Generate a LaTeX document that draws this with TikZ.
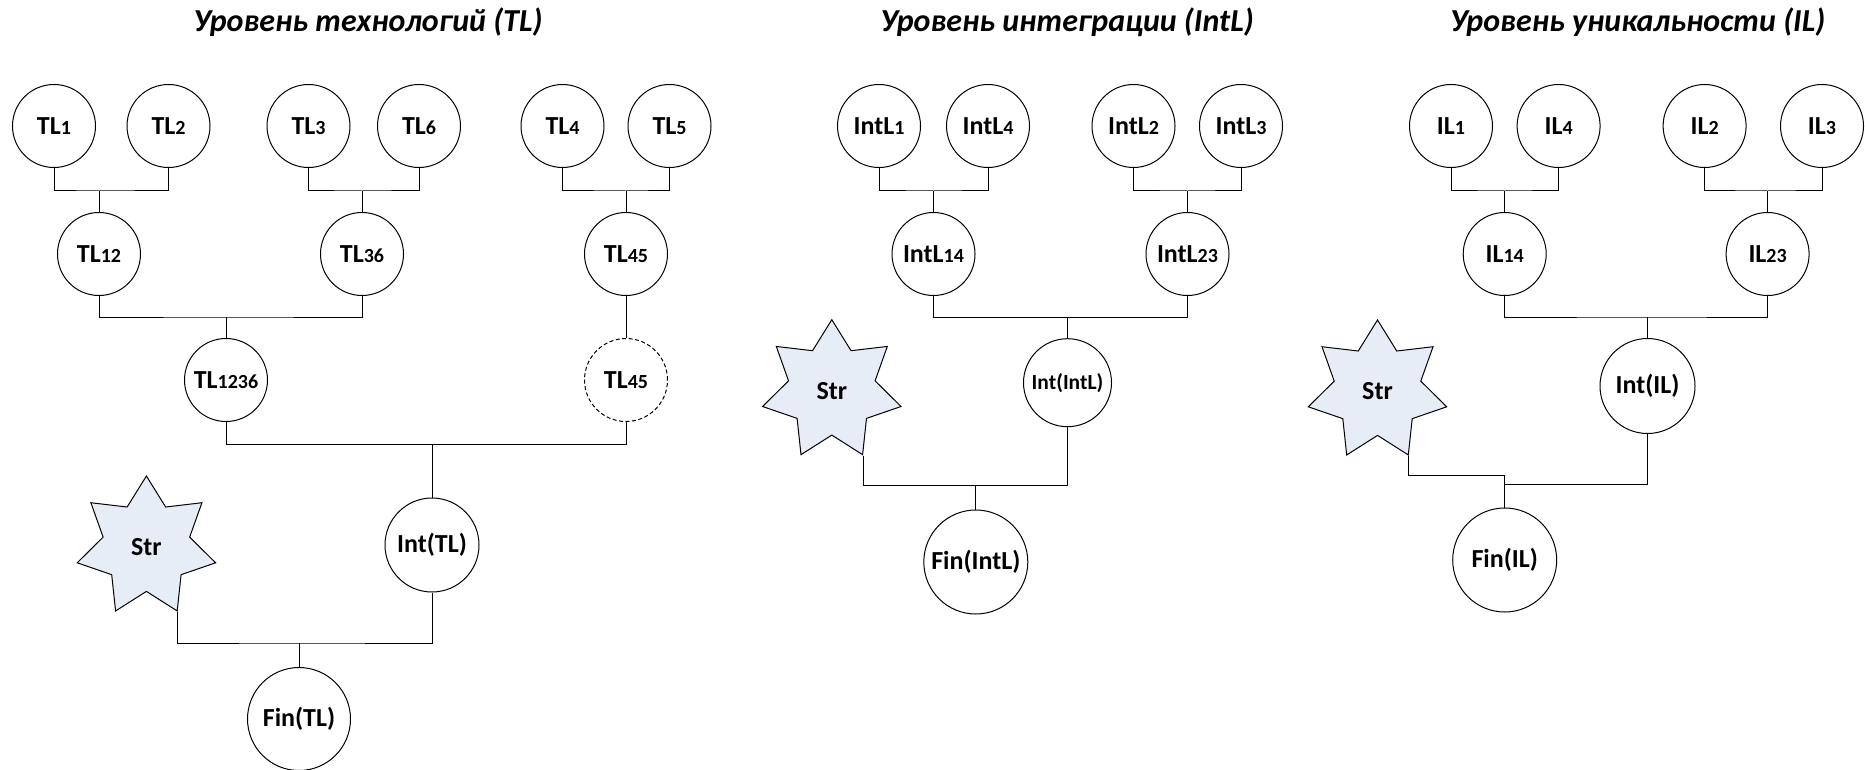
\documentclass[tikz,border=0pt]{standalone}
\usepackage{fontspec}
\setmainfont{Carlito}
\usepackage{tikz}
\usetikzlibrary{positioning,shapes.geometric}
\definecolor{strfill}{RGB}{231,237,247}
\newcommand{\ix}[1]{{\fontsize{20}{22}\selectfont #1}}
\tikzstyle{knot}=[
	circle,
	draw=black,
	minimum size=83pt,
	inner sep=0pt,
	font=\bfseries\fontsize{26}{30}\selectfont]
\tikzstyle{ghost}=[
	knot,
	dash pattern=on 4pt off 2.5pt]
\tikzstyle{strat}=[
	star,
	star points=7,
	star point ratio=1.6,
	minimum size=142pt,
	inner sep=0pt,
	draw=black,
	fill=strfill,
	font=\bfseries\fontsize{26}{30}\selectfont]
\tikzstyle{head}=[
	inner sep=0pt,
	font=\bfseries\itshape\fontsize{32}{38}\selectfont]

\begin{document}
\begin{tikzpicture}[x=1pt,y=1pt]
	\useasboundingbox (0,0) rectangle (1865,-770);
	\begin{scope}[on grid,line width=1pt]
	\node[head]	(h1)	at (368,-22)	{Уровень технологий (TL)};
	\node[knot]	(TL1)	at (54,-126)	{TL\ix{1}};
	\node[knot]	(TL2)	[right=114.5pt of TL1]	{TL\ix{2}};
	\node[knot]	(TL3)	[right=140pt of TL2]	{TL\ix{3}};
	\node[knot]	(TL6)	[right=110.5pt of TL3]	{TL\ix{6}};
	\node[knot]	(TL4)	[right=143.5pt of TL6]	{TL\ix{4}};
	\node[knot]	(TL5)	[right=107pt of TL4]	{TL\ix{5}};
	\node[knot]	(TL12)	[below right=128pt and 45pt of TL1]	{TL\ix{12}};
	\node[knot]	(TL36)	[below right=128pt and 53.5pt of TL3]	{TL\ix{36}};
	\node[knot]	(TL45)	[below right=128pt and 63.5pt of TL4]	{TL\ix{45}};
	\node[knot]	(TL1236)	[below right=126pt and 127pt of TL12]	{TL\ix{1236}};
	\node[ghost]	(TL45v)	[below=126pt of TL45]	{TL\ix{45}}
	edge (TL45);
	\node[knot,minimum size=94pt]	(IntTL)	[below right=165pt and 206pt of TL1236]	{Int(TL)};
	\node[strat]	(StrTL)	[below left=2pt and 285.6pt of IntTL]	{Str};
	\node[knot,minimum size=103pt]	(FinTL)	[below left=174pt and 133pt of IntTL]	{Fin(TL)};
	\coordinate[above=21pt of TL12.north]	(j12);
	\coordinate[above=21pt of TL36.north]	(j36);
	\coordinate[above=21pt of TL45.north]	(j45);
	\coordinate[above=21pt of TL1236.north]	(j1236);
	\coordinate[above=53pt of IntTL.north]	(jIntTL);
	\coordinate[above=24pt of FinTL.north]	(jFinTL);
	\draw (TL1) |- (j12) -| (TL2);
	\draw (j12) -- (TL12);
	\draw (TL3) |- (j36) -| (TL6);
	\draw (j36) -- (TL36);
	\draw (TL4) |- (j45) -| (TL5);
	\draw (j45) -- (TL45);
	\draw (TL12) |- (j1236) -| (TL36);
	\draw (j1236) -- (TL1236);
	\draw (TL1236) |- (jIntTL) -| (TL45v);
	\draw (jIntTL) -- (IntTL);
	\draw (StrTL.outer point 5) |- (jFinTL) -| (IntTL);
	\draw (jFinTL) -- (FinTL);

	\node[head]	(h2)	at (1067,-22)	{Уровень интеграции (IntL)};
	\node[knot]	(IntL1)	at (879,-126)	{IntL\ix{1}};
	\node[knot]	(IntL4)	[right=109pt of IntL1]	{IntL\ix{4}};
	\node[knot]	(IntL2)	[right=145.5pt of IntL4]	{IntL\ix{2}};
	\node[knot]	(IntL3)	[right=107.5pt of IntL2]	{IntL\ix{3}};
	\node[knot]	(IntL14)	[below right=128pt and 54.5pt of IntL1]	{IntL\ix{14}};
	\node[knot]	(IntL23)	[below right=128pt and 54pt of IntL2]	{IntL\ix{23}};
	\node[knot,minimum size=88pt,font=\bfseries\fontsize{21.5}{24}\selectfont]	(IntIntL)	[below right=128.7pt and 134pt of IntL14]	{Int(IntL)};
	\node[strat]	(StrIntL)	[below left=8pt and 235.7pt of IntIntL]	{Str};
	\node[knot,minimum size=104pt]	(FinIntL)	[below left=179.3pt and 91.7pt of IntIntL]	{Fin(IntL)};
	\coordinate[above=21pt of IntL14.north]	(j14);
	\coordinate[above=21pt of IntL23.north]	(j23);
	\coordinate[above=21pt of IntIntL.north]	(jIntIntL);
	\coordinate[above=24pt of FinIntL.north]	(jFinIntL);
	\draw (IntL1) |- (j14) -| (IntL4);
	\draw (j14) -- (IntL14);
	\draw (IntL2) |- (j23) -| (IntL3);
	\draw (j23) -- (IntL23);
	\draw (IntL14) |- (jIntIntL) -| (IntL23);
	\draw (jIntIntL) -- (IntIntL);
	\draw (StrIntL.outer point 5) |- (jFinIntL) -| (IntIntL);
	\draw (jFinIntL) -- (FinIntL);

	\node[head]	(h3)	at (1637.6,-22)	{Уровень уникальности (IL)};
	\node[knot]	(IL1)	at (1451,-126)	{IL\ix{1}};
	\node[knot]	(IL4)	[right=107.6pt of IL1]	{IL\ix{4}};
	\node[knot]	(IL2)	[right=146pt of IL4]	{IL\ix{2}};
	\node[knot]	(IL3)	[right=117.4pt of IL2]	{IL\ix{3}};
	\node[knot]	(IL14)	[below right=128pt and 53.7pt of IL1]	{IL\ix{14}};
	\node[knot]	(IL23)	[below right=128pt and 63pt of IL2]	{IL\ix{23}};
	\node[knot,minimum size=95pt]	(IntIL)	[below right=132pt and 142.8pt of IL14]	{Int(IL)};
	\node[strat]	(StrIL)	[below left=5pt and 270pt of IntIL]	{Str};
	\node[knot,minimum size=104pt]	(FinIL)	[below=306pt of IL14]	{Fin(IL)};
	\coordinate[above=21pt of IL14.north]	(jil14);
	\coordinate[above=21pt of IL23.north]	(jil23);
	\coordinate[above=21pt of IntIL.north]	(jIntIL);
	\coordinate[above=32pt of FinIL.north]	(jStrIL);
	\coordinate[above=23pt of FinIL.north]	(jFinIL);
	\draw (IL1) |- (jil14) -| (IL4);
	\draw (jil14) -- (IL14);
	\draw (IL2) |- (jil23) -| (IL3);
	\draw (jil23) -- (IL23);
	\draw (IL14) |- (jIntIL) -| (IL23);
	\draw (jIntIL) -- (IntIL);
	\draw (StrIL.outer point 5) |- (jStrIL) -- (FinIL);
	\draw (IntIL) |- (jFinIL);
	\end{scope}
\end{tikzpicture}
\end{document}
